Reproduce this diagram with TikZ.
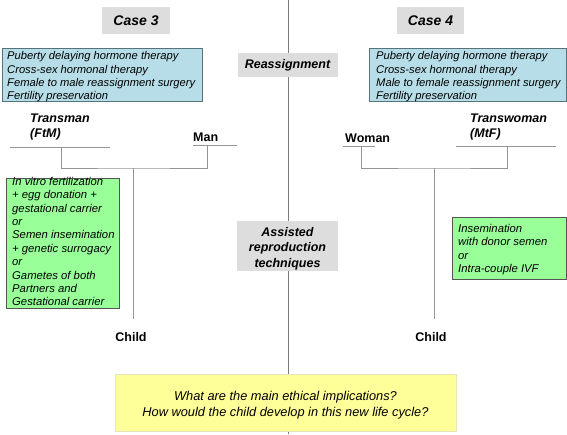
\documentclass[tikz,border=0pt]{standalone}
\usepackage{fontspec}
\setmainfont{Liberation Sans}
\definecolor{caseg}{HTML}{DDDDDD}
\definecolor{bluef}{HTML}{B7DEE8}
\definecolor{blued}{HTML}{56737A}
\definecolor{greenf}{HTML}{99FF99}
\definecolor{greend}{HTML}{555555}
\definecolor{yellf}{HTML}{FFFF99}
\definecolor{yelld}{HTML}{E6E6B8}
\definecolor{linec}{HTML}{7A7A7A}
\definecolor{brac}{HTML}{959595}
\begin{document}
\begin{tikzpicture}[x=1pt,y=-1pt,
  graybox/.style={fill=caseg, draw=none, inner sep=0pt},
  casefont/.style={font=\fontsize{14}{16}\selectfont\bfseries\itshape},
  headfont/.style={font=\fontsize{12.5}{15.5}\selectfont\bfseries\itshape},
  bluebox/.style={fill=bluef, draw=blued, line width=0.8pt, inner sep=0pt},
  greenbox/.style={fill=greenf, draw=greend, line width=0.8pt, inner sep=0pt},
  yellbox/.style={fill=yellf, draw=yelld, line width=0.8pt, inner sep=0pt},
  boxtext/.style={anchor=north west, inner sep=0pt, align=left, font=\fontsize{11.2}{13.2}\selectfont\itshape},
  greentext/.style={anchor=north west, inner sep=0pt, align=left, font=\fontsize{11.3}{13.4}\selectfont\itshape},
  person/.style={inner sep=0pt, align=left, font=\fontsize{12.5}{15}\selectfont\bfseries},
  mainline/.style={draw=linec, line width=0.9pt},
  famline/.style={draw=brac, line width=0.9pt}
]
\useasboundingbox (0,0) rectangle (567,434);

% central divider
\coordinate (divtop) at (288,0);
\coordinate (divbot) at (288,434);
\draw[mainline] (divtop) -- (divbot);

% case headers
\node[graybox, casefont, minimum width=68pt, minimum height=27pt] (case3) at (136,20.5) {Case 3};
\node[graybox, casefont, minimum width=67pt, minimum height=27pt] (case4) at (430.5,20.5) {Case 4};

% reassignment boxes
\node[bluebox, minimum width=200pt, minimum height=53pt] (blue3) at (102,74.5) {};
\node[boxtext] (blue3t) at (7,51.5) {Puberty delaying hormone therapy\\Cross-sex hormonal therapy\\Female to male reassignment surgery\\Fertility preservation};
\node[bluebox, minimum width=197pt, minimum height=53pt] (blue4) at (467.5,74.5) {};
\node[boxtext] (blue4t) at (376,51.5) {Puberty delaying hormone therapy\\Cross-sex hormonal therapy\\Male to female reassignment surgery\\Fertility preservation};
\node[graybox, headfont, minimum width=100pt, minimum height=24pt] (reassign) at (287.5,65) {\raisebox{-1.5pt}{Reassignment}};

% case 3 family
\node[person, font=\fontsize{12.5}{15}\selectfont\bfseries\itshape, anchor=north west] (transman) at (30,114) {Transman\\(FtM)};
\node[person, anchor=base west] (man) at (193,141) {Man};
\coordinate (tmL) at (10,147);
\coordinate (tmR) at (110,147);
\coordinate (tmJ) at (61,147);
\coordinate (manL) at (193,145);
\coordinate (manR) at (237,145);
\coordinate (manJ) at (207,145);
\coordinate (j3) at (133,168);
\coordinate (c3end) at (133,319);
\draw[famline] (tmL) -- (tmR);
\draw[famline] (manL) -- (manR);
\draw[famline] (tmJ) |- (j3) -| (manJ);
\draw[famline] (j3) -- (c3end);
\node[person, anchor=base] (child3) at (131,341) {Child};

% case 4 family
\node[person, anchor=base west] (woman) at (345,142) {Woman};
\node[person, font=\fontsize{12.5}{15}\selectfont\bfseries\itshape, anchor=north west] (transwoman) at (470,114) {Transwoman\\(MtF)};
\coordinate (wL) at (343,146);
\coordinate (wR) at (375,146);
\coordinate (wJ) at (361,146);
\coordinate (twL) at (456,146);
\coordinate (twR) at (556,146);
\coordinate (twJ) at (507,146);
\coordinate (j4) at (434,168);
\coordinate (c4end) at (434,319);
\draw[famline] (wL) -- (wR);
\draw[famline] (twL) -- (twR);
\draw[famline] (wJ) |- (j4) -| (twJ);
\draw[famline] (j4) -- (c4end);
\node[person, anchor=base] (child4) at (431,341) {Child};

% assisted reproduction
\node[greenbox, minimum width=113pt, minimum height=130pt] (green3) at (62.5,243) {};
\node[greentext] (green3t) at (12,177) {In vitro fertilization\\+ egg donation +\\gestational carrier\\or\\Semen insemination\\+ genetic surrogacy\\or\\Gametes of both\\Partners and\\Gestational carrier};
\node[greenbox, minimum width=114pt, minimum height=62pt] (green4) at (509,248) {};
\node[greentext] (green4t) at (458,224) {Insemination\\with donor semen\\or\\Intra-couple IVF};
\node[graybox, minimum width=101pt, minimum height=50pt] (art) at (287.5,246) {};
\node[headfont, align=center, inner sep=0pt] (artt) at (287.5,248.5) {Assisted\\reproduction\\techniques};

% question box
\node[yellbox, minimum width=341pt, minimum height=57pt] (question) at (285.5,402.5) {};
\node[align=center, inner sep=0pt, font=\fontsize{12.8}{16}\selectfont\itshape] (questiont) at (285.5,405) {What are the main ethical implications?\\How would the child develop in this new life cycle?};
\end{tikzpicture}
\end{document}
